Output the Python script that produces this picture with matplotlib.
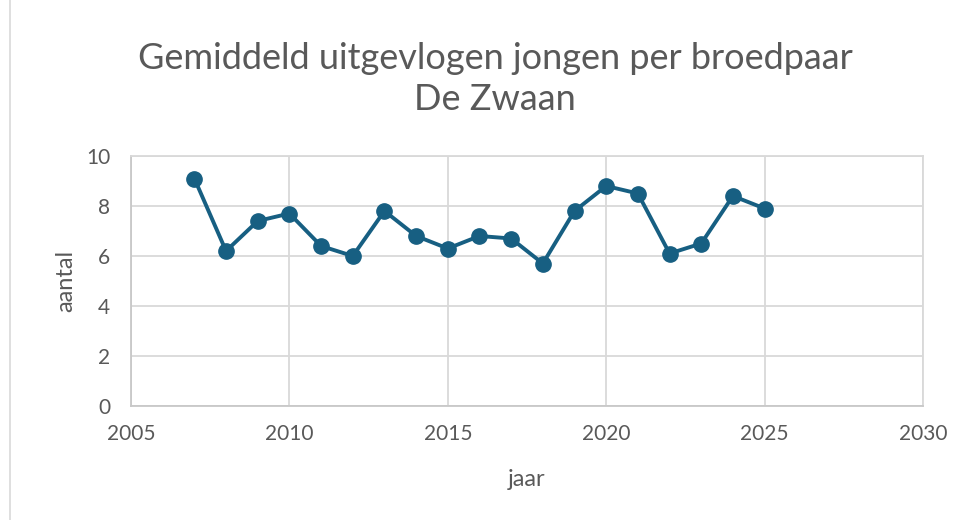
import matplotlib.pyplot as plt

# data
jaren = [2007, 2008, 2009, 2010, 2011, 2012, 2013, 2014, 2015, 2016,
         2017, 2018, 2019, 2020, 2021, 2022, 2023, 2024, 2025]
gemiddeld = [9.1, 6.2, 7.4, 7.7, 6.4, 6.0, 7.8, 6.8, 6.3, 6.8,
             6.7, 5.7, 7.8, 8.8, 8.5, 6.1, 6.5, 8.4, 7.9]
x_ticks = [2005, 2010, 2015, 2020, 2025, 2030]
y_ticks = [0, 2, 4, 6, 8, 10]

plt.rcParams['font.family'] = ['Lato', 'DejaVu Sans']
grijs = '#595959'

fig = plt.figure(figsize=(9.66, 5.2), dpi=100)
ax = fig.add_axes([131 / 966, 114 / 520, (923 - 131) / 966, (406 - 156) / 520])

ax.plot(jaren, gemiddeld, color='#175f82', lw=2.8, marker='o', ms=11, zorder=3)

ax.set_xlim(2005, 2030)
ax.set_ylim(0, 10)
ax.set_xticks(x_ticks)
ax.set_yticks(y_ticks)
ax.grid(True, color='#d9d9d9', lw=1.3)
ax.set_axisbelow(True)
for s in ax.spines.values():
    s.set_color('#d9d9d9')
    s.set_linewidth(1.3)
ax.spines['left'].set_color('#c8c8c8')
ax.spines['bottom'].set_color('#c8c8c8')
ax.tick_params(length=0, labelsize=15, colors=grijs, pad=13)
ax.tick_params(axis='y', pad=15)

ax.set_xlabel('jaar', fontsize=17, color=grijs, labelpad=18)
ax.set_ylabel('aantal', fontsize=17, color=grijs, labelpad=7)

fig.text(495 / 966, 1 - 79 / 520, 'Gemiddeld uitgevlogen jongen per broedpaar\nDe Zwaan',
         ha='center', va='center', fontsize=26, color=grijs, linespacing=1.32)

# rand van de grafiek links
fig.add_artist(plt.Line2D([10 / 966, 10 / 966], [0, 1], color='#d9d9d9', lw=1.2))

fig.savefig('out.png', dpi=100)
